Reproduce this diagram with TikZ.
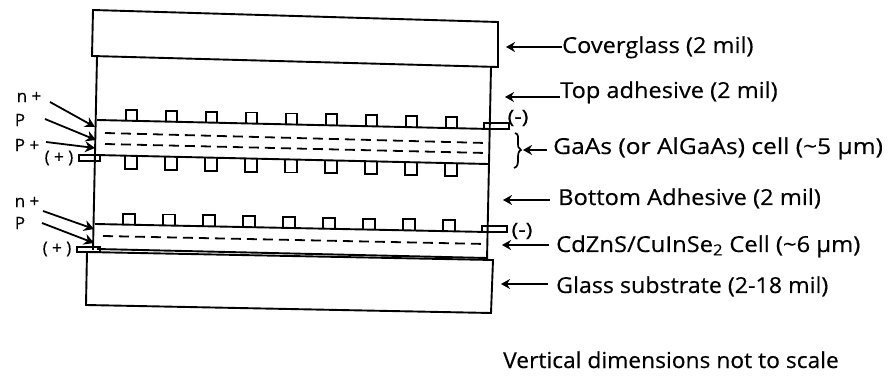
\documentclass[tikz,border=0pt]{standalone}
\usepackage{fontspec}
\setmainfont[FakeBold=0.35]{Open Sans}
\usepackage{graphicx}
\usetikzlibrary{arrows.meta}
\newcommand{\lw}[2]{\scalebox{#1}[1.1]{#2}}
\tikzset{
  x=1pt,y=-1pt,
  ln/.style={line width=1.9pt,black},
  dsh/.style={line width=1.8pt,dash pattern=on 10pt off 6pt},
  arr/.style={line width=1.4pt,-{Stealth[length=9pt,width=10pt]}},
  small arr/.style={line width=1.8pt,-{Stealth[length=10pt,width=11pt]}},
  lab/.style={inner sep=0pt,anchor=base west,font=\fontsize{20}{24}\selectfont},
  sm/.style={inner sep=0pt,font=\fontsize{17}{20}\selectfont},
  pm/.style={inner sep=0pt,font=\fontsize{17}{20}\selectfont},
}
\begin{document}
\begin{tikzpicture}
\useasboundingbox[fill=white] (0,0) rectangle (889,379);
% layers
\draw[ln] (93,10) -- (498,22) -- (498,67) -- (92,56) -- cycle;
\draw[ln] (97,57) -- (93,250);
\draw[ln] (491,67) -- (487,260);
\draw[ln] (87,252) -- (493,260) -- (491,313) -- (86,305) -- cycle;
% top cell
\draw[ln] (97,120) -- (490,129);
\draw[ln] (96,155) -- (488,164);
\draw[dsh] (105,133) -- (486,143);
\draw[dsh] (105,144) -- (486,153);
% lower cell
\draw[ln] (95,224) -- (487,232);
\draw[dsh] (103,236) -- (486,244);
\draw[ln] (97,249) -- (487,258);
% contact fingers
\foreach \i in {0,...,8}{
  \pgfmathsetmacro\xa{131.5+40*\i}
  \pgfmathsetmacro\ya{120+(\xa-97)*9/393}
  \draw[ln] (\xa-5.5,\ya) -- (\xa-5.5,\ya-11) -- (\xa+5.5,\ya-11) -- (\xa+5.5,\ya);
  \pgfmathsetmacro\xb{131+40*\i}
  \pgfmathsetmacro\yb{155+(\xb-96)*9/392}
  \draw[ln] (\xb-6,\yb) -- (\xb-6,\yb+13) -- (\xb+6,\yb+13) -- (\xb+6,\yb);
  \pgfmathsetmacro\xc{129+40*\i}
  \pgfmathsetmacro\yc{224+(\xc-95)*8/392}
  \draw[ln] (\xc-6,\yc) -- (\xc-6,\yc-11) -- (\xc+6,\yc-11) -- (\xc+6,\yc);
}
% tabs
\draw[ln] (484,123) rectangle (509,129);
\draw[ln] (79,155) rectangle (100,161);
\draw[ln] (482,226) rectangle (507,232);
\draw[ln] (77,247) rectangle (100,252);
% tab labels
\node[pm] (mA) at (518,118) {\scalebox{1.35}[1.1]{(-)}};
\node[pm] (pA) at (59,158) {( + )};
\node[pm] (mB) at (522,231) {\scalebox{1.35}[1.1]{(-)}};
\node[pm] (pB) at (57,249) {( + )};
% left labels
\node[sm] (nA) at (29,97) {n +};
\node[sm] (pPa) at (20,120) {P};
\node[sm] (ppA) at (27,145) {P +};
\node[sm] (nB) at (27,202) {n +};
\node[sm] (pPb) at (20,223) {P};
\coordinate (t1) at (50,102); \coordinate (h1) at (95,127);
\coordinate (t2) at (45,119); \coordinate (h2) at (96,140);
\coordinate (t3) at (46,142); \coordinate (h3) at (95,148);
\coordinate (t4) at (43,211); \coordinate (h4) at (94,229);
\coordinate (t5) at (42,223); \coordinate (h5) at (94,243);
\draw[small arr] (t1) -- (h1);
\draw[small arr] (t2) -- (h2);
\draw[small arr] (t3) -- (h3);
\draw[small arr] (t4) -- (h4);
\draw[small arr] (t5) -- (h5);
% right labels
\node[lab] (cover) at (562,53) {\lw{1.18}{Coverglass (2 mil)}};
\node[lab] (topad) at (560,98) {\lw{1.18}{Top adhesive (2 mil)}};
\node[lab] (gaas) at (553,154) {\lw{1.23}{GaAs (or AlGaAs) cell (\textasciitilde5 µm)}};
\node[lab] (botad) at (558,205) {\lw{1.185}{Bottom Adhesive (2 mil)}};
\node[lab] (cis) at (556,252) {\lw{1.19}{CdZnS/CuInSe\textsubscript{2} Cell (\textasciitilde6 µm)}};
\node[lab] (glass) at (556,293) {\lw{1.16}{Glass substrate (2-18 mil)}};
\node[lab] (note) at (503,368) {\lw{1.14}{Vertical dimensions not to scale}};
\coordinate (a1) at (506,47);
\coordinate (a2) at (505,97);
\coordinate (a3) at (523,150);
\coordinate (a4) at (503,200);
\coordinate (a5) at (502,245);
\coordinate (a6) at (501,284);
\draw[arr] (cover.west |- a1) -- (a1);
\draw[arr] (topad.west |- a2) -- (a2);
\draw[arr] ([xshift=-6pt]gaas.west |- a3) -- (a3);
\draw[arr] ([xshift=-8pt]botad.west |- a4) -- (a4);
\draw[arr] ([xshift=-7pt]cis.west |- a5) -- (a5);
\draw[arr] ([xshift=-8pt]glass.west |- a6) -- (a6);
% brace
\draw[line width=1.7pt] (515,133) .. controls (519,134) and (518,138) .. (518,142) .. controls (518,146) and (518,149) .. (521,150) .. controls (518,151) and (518,155) .. (518,159) .. controls (518,163) and (518,167) .. (514,168);
\end{tikzpicture}
\end{document}
